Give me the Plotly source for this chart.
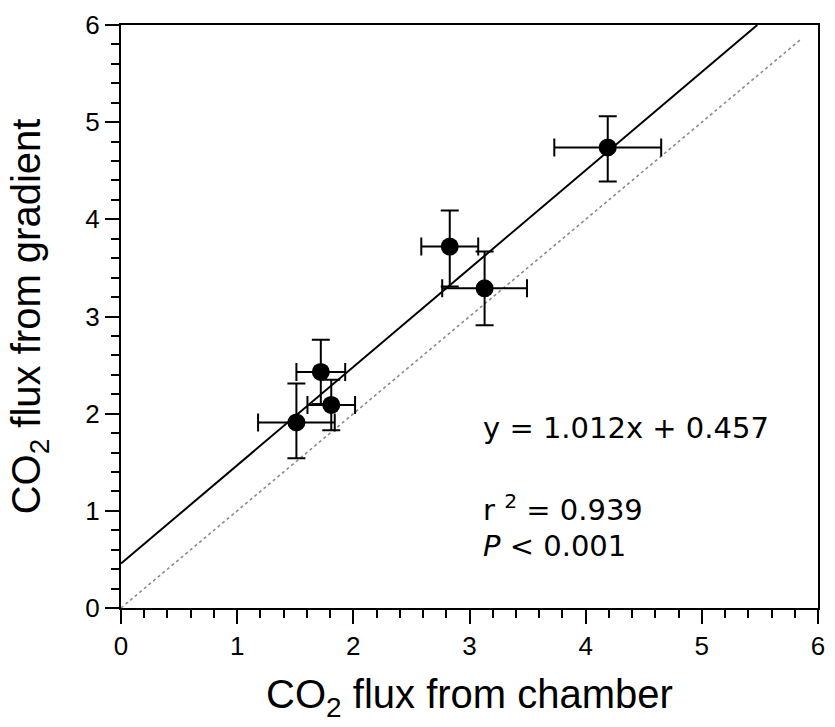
import plotly.graph_objects as go

# Data
chamber = [2.83, 3.13, 1.72, 1.81, 1.51, 4.19]
gradient = [3.72, 3.29, 2.43, 2.09, 1.91, 4.74]
chamber_err = [0.245, 0.365, 0.21, 0.205, 0.33, 0.46]
gradient_err_plus = [0.37, 0.38, 0.33, 0.26, 0.40, 0.32]
gradient_err_minus = [0.41, 0.38, 0.33, 0.26, 0.37, 0.35]

slope = 1.012
intercept = 0.457
fit_x = [0.0, (6.0 - intercept) / slope]
one_to_one = [0.0, 5.85]

axis_ticks = [0, 1, 2, 3, 4, 5, 6]

fig = go.Figure()

fig.add_trace(go.Scatter(
    x=one_to_one, y=one_to_one, mode="lines",
    line=dict(color="#8a8a8a", width=1.6, dash="dot"),
    showlegend=False, hoverinfo="skip"))

fig.add_trace(go.Scatter(
    x=fit_x, y=[slope * v + intercept for v in fit_x], mode="lines",
    line=dict(color="black", width=2),
    showlegend=False, hoverinfo="skip"))

fig.add_trace(go.Scatter(
    x=chamber, y=gradient, mode="markers",
    marker=dict(color="black", size=18),
    error_x=dict(type="data", array=chamber_err, color="black", thickness=2, width=9),
    error_y=dict(type="data", array=gradient_err_plus, arrayminus=gradient_err_minus,
                 color="black", thickness=2, width=9),
    showlegend=False))

font_tick = dict(family="Liberation Sans, Arial, sans-serif", size=26, color="black")
font_title = dict(family="Liberation Sans, Arial, sans-serif", size=40, color="black")
font_ann = dict(family="DejaVu Sans, Verdana, sans-serif", size=29, color="black")

common_axis = dict(
    range=[0, 6], tickvals=axis_ticks, ticktext=[str(t) for t in axis_ticks],
    showgrid=False, zeroline=False, showline=True, linecolor="black", linewidth=2,
    mirror=True, ticks="outside", ticklen=14, tickwidth=2, tickcolor="black",
    tickfont=font_tick,
    minor=dict(dtick=0.2, ticks="outside", ticklen=8, tickwidth=1.5, tickcolor="black", showgrid=False),
)

fig.update_layout(
    width=835, height=727,
    margin=dict(l=121, r=10, t=18, b=119),
    paper_bgcolor="white", plot_bgcolor="white",
    xaxis=dict(common_axis, title=dict(text="CO<sub>2</sub> flux from chamber", font=font_title, standoff=20)),
    yaxis=dict(common_axis, title=dict(text="CO<sub>2</sub> flux from gradient", font=font_title, standoff=32)),
)

fig.add_annotation(x=3.10, y=1.85, xref="x", yref="y", xanchor="left", yanchor="middle",
                   text="y = 1.012x + 0.457", showarrow=False, font=font_ann)
fig.add_annotation(x=3.10, y=1.03, xref="x", yref="y", xanchor="left", yanchor="middle",
                   text="r <sup>2</sup> = 0.939", showarrow=False, font=font_ann)
fig.add_annotation(x=3.10, y=0.64, xref="x", yref="y", xanchor="left", yanchor="middle",
                   text="<i>P</i> &lt; 0.001", showarrow=False, font=font_ann)

fig.write_html("out.html")
